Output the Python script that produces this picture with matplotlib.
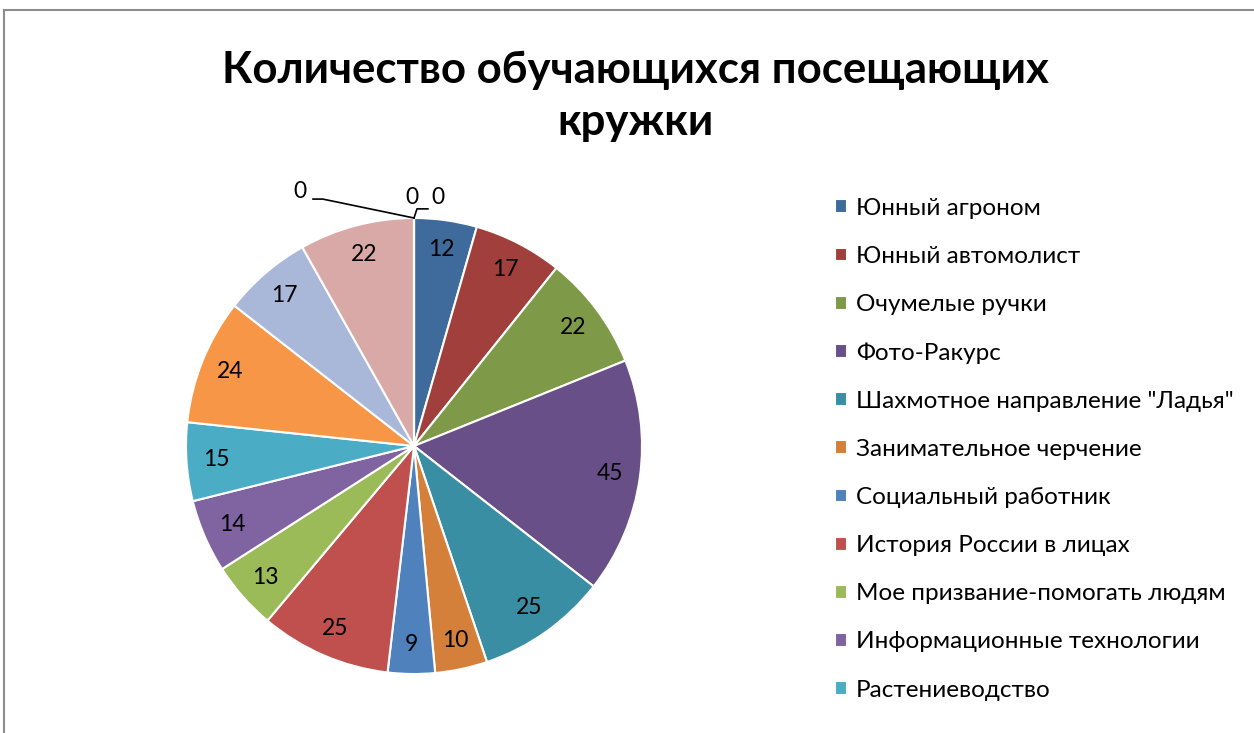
import numpy as np
import matplotlib.pyplot as plt
from matplotlib.lines import Line2D

plt.rcParams['font.family'] = ['Lato', 'Open Sans', 'DejaVu Sans']

title = 'Количество обучающихся посещающих\nкружки'
names = ['Юнный агроном', 'Юнный автомолист', 'Очумелые ручки', 'Фото-Ракурс',
         'Шахмотное направление "Ладья"', 'Занимательное черчение',
         'Социальный работник', 'История России в лицах',
         'Мое призвание-помогать людям', 'Информационные технологии',
         'Растениеводство']
values = [12, 17, 22, 45, 25, 10, 9, 25, 13, 14, 15, 24, 17, 22, 0, 0, 0]
colors = ['#3E6A9C', '#A13F3C', '#7E9A48', '#694F87', '#3A8EA4', '#D4803A',
          '#4F81BD', '#C0504D', '#9BBB59', '#8064A2', '#4BACC6', '#F79646',
          '#A9B8D8', '#D9A9A8', '#C3D69B', '#B3A2C7', '#93CDDD']

W, H = 1254, 733
fig = plt.figure(figsize=(W / 100, H / 100), dpi=100)

# pie area in pixels: centre (414, 446), radius 228
cx, cy, r = 414, 446, 228
ax = fig.add_axes([(cx - r) / W, (H - cy - r) / H, 2 * r / W, 2 * r / H])
wedges, _ = ax.pie(values, colors=colors, startangle=90, counterclock=False,
                   wedgeprops=dict(edgecolor='white', linewidth=1.5))
ax.set_xlim(-1, 1)
ax.set_ylim(-1, 1)

for w, v in zip(wedges, values):
    if v == 0:
        continue
    ang = np.deg2rad((w.theta1 + w.theta2) / 2)
    ax.text(0.87 * np.cos(ang), 0.87 * np.sin(ang), str(v),
            ha='center', va='center', fontsize=16.5)

# zero slices sit at the top; labels pushed out with leader lines
zeros = [w for w, v in zip(wedges, values) if v == 0]
a = np.deg2rad(zeros[0].theta1)
x0, y0 = np.cos(a), np.sin(a)
ax.plot([x0, x0 - 0.40, x0 - 0.443], [y0, y0 + 0.083, y0 + 0.083],
        color='black', lw=1.2, clip_on=False)
ax.text(x0 - 0.5, y0 + 0.115, '0', ha='center', va='center', fontsize=16.5)
ax.text(x0 - 0.01, y0 + 0.09, '0', ha='center', va='center', fontsize=16.5)
ax.plot([x0, x0 + 0.013, x0 + 0.061], [y0, y0 + 0.04, y0 + 0.04],
        color='black', lw=1.2, clip_on=False)
ax.text(x0 + 0.105, y0 + 0.09, '0', ha='center', va='center', fontsize=16.5)

fig.text(635 / W, 1 - 96 / H, title, ha='center', va='center',
         fontsize=31.5, fontweight='bold', linespacing=1.38)

fig.legend(wedges[:len(names)], names, loc='upper left',
           bbox_to_anchor=(835 / W, 1 - 198 / H), frameon=False, fontsize=17.5,
           handlelength=0.5, handleheight=0.5, handletextpad=0.35,
           labelspacing=1.115, borderpad=0, borderaxespad=0)

# chart frame (partly cut off in the reference)
fig.add_artist(Line2D([4 / W, 1], [1 - 10 / H] * 2, color='#8c8c8c', lw=1.5,
                      transform=fig.transFigure))
fig.add_artist(Line2D([4 / W] * 2, [0, 1 - 10 / H], color='#8c8c8c', lw=1.5,
                      transform=fig.transFigure))

fig.savefig('out.png', dpi=100)
